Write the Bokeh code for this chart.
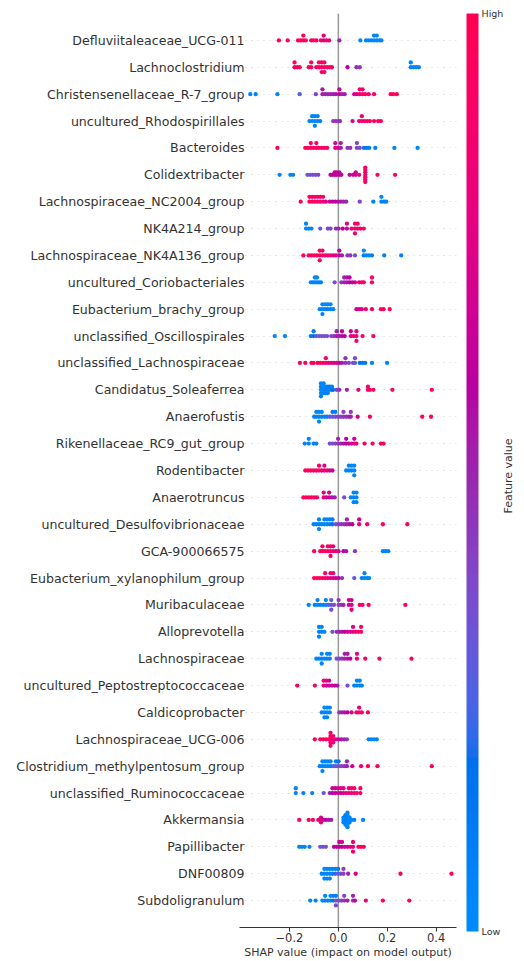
import numpy as np
from bokeh.plotting import figure
from bokeh.models import (ColumnDataSource, Range1d, FixedTicker, LinearColorMapper,
                          ColorBar, Span, LinearAxis)
from bokeh.transform import transform
from bokeh.embed import file_html
from bokeh.resources import INLINE

# ---------------- data (SHAP value, normalised feature value) ----------------
features = [
    "Defluviitaleaceae_UCG-011", "Lachnoclostridium", "Christensenellaceae_R-7_group",
    "uncultured_Rhodospirillales", "Bacteroides", "Colidextribacter",
    "Lachnospiraceae_NC2004_group", "NK4A214_group", "Lachnospiraceae_NK4A136_group",
    "uncultured_Coriobacteriales", "Eubacterium_brachy_group", "unclassified_Oscillospirales",
    "unclassified_Lachnospiraceae", "Candidatus_Soleaferrea", "Anaerofustis",
    "Rikenellaceae_RC9_gut_group", "Rodentibacter", "Anaerotruncus",
    "uncultured_Desulfovibrionaceae", "GCA-900066575", "Eubacterium_xylanophilum_group",
    "Muribaculaceae", "Alloprevotella", "Lachnospiraceae", "uncultured_Peptostreptococcaceae",
    "Caldicoprobacter", "Lachnospiraceae_UCG-006", "Clostridium_methylpentosum_group",
    "unclassified_Ruminococcaceae", "Akkermansia", "Papillibacter", "DNF00809", "Subdoligranulum",
]

defluviitaleaceae = [(-0.243,.95),(-0.207,.95),(-0.165,.95),(-0.154,.95),(-0.143,.95),(-0.143,.92),(-0.133,.95),(-0.111,.95),(-0.101,.92),(-0.090,.95),(-0.071,.9),(-0.060,.75),(-0.060,.75),(-0.049,.9),(-0.0375,.85),(0.004,.5),(0.090,.05),(0.113,.05),(0.124,.03),(0.135,.05),(0.146,.03),(0.146,.05),(0.157,.03),(0.157,.05),(0.168,.03),(0.176,.05)]
lachnoclostridium = [(-0.179,.95),(-0.179,.95),(-0.168,.95),(-0.158,.95),(-0.121,.95),(-0.111,.95),(-0.111,.92),(-0.090,.92),(-0.079,.92),(-0.079,.9),(-0.068,.92),(-0.068,.9),(-0.068,.9),(-0.057,.9),(-0.057,.92),(-0.057,.88),(-0.046,.9),(-0.035,.88),(-0.026,.88),(0.0375,.6),(0.074,.45),(0.0875,.45),(0.296,.03),(0.296,.05),(0.307,.03),(0.318,.05),(0.329,.03)]
christensenellaceae = [(-0.360,.03),(-0.338,.05),(-0.249,.05),(-0.158,.25),(-0.092,.4),(-0.065,.5),(-0.065,.55),(-0.054,.5),(-0.043,.5),(-0.032,.5),(-0.021,.52),(-0.010,.55),(0.004,.65),(0.004,.65),(0.015,.5),(0.026,.5),(0.065,.7),(0.076,.7),(0.0875,.85),(0.0875,.85),(0.099,.9),(0.099,.9),(0.110,.9),(0.124,.9),(0.146,.92),(0.214,.95),(0.225,.95),(0.239,.95)]
rhodospirillales = [(-0.118,.05),(-0.107,.03),(-0.107,.05),(-0.096,.03),(-0.096,.05),(-0.096,.05),(-0.085,.03),(-0.085,.05),(-0.074,.05),(-0.021,.42),(-0.010,.45),(0.001,.45),(0.007,.45),(0.058,.7),(0.085,.85),(0.096,.88),(0.096,.88),(0.107,.9),(0.118,.9),(0.129,.9),(0.146,.92),(0.1625,.95),(0.174,.95)]
bacteroides = [(-0.249,.95),(-0.135,.95),(-0.124,.95),(-0.1125,.92),(-0.1125,.92),(-0.101,.92),(-0.090,.92),(-0.090,.9),(-0.079,.9),(-0.068,.9),(-0.057,.9),(-0.046,.88),(-0.0125,.7),(-0.0125,.68),(-0.001,.7),(0.010,.55),(0.010,.55),(0.0375,.45),(0.049,.45),(0.076,.4),(0.076,.4),(0.0875,.35),(0.104,.2),(0.115,.15),(0.126,.1),(0.151,.05),(0.229,.05),(0.324,.03)]
colidextribacter = [(-0.240,.03),(-0.196,.05),(-0.185,.05),(-0.126,.32),(-0.115,.32),(-0.104,.35),(-0.093,.35),(-0.082,.4),(-0.032,.6),(-0.024,.6),(-0.015,.6),(-0.015,.62),(-0.007,.6),(-0.007,.62),(0.004,.62),(0.004,.6),(0.0125,.6),(0.046,.65),(0.060,.65),(0.071,.7),(0.071,.7),(0.085,.8),(0.110,.92),(0.110,.92),(0.110,.9),(0.110,.92),(0.110,.9),(0.110,.92),(0.110,.92),(0.160,.95),(0.232,.95)]
nc2004 = [(-0.154,.95),(-0.118,.92),(-0.118,.92),(-0.107,.92),(-0.107,.92),(-0.096,.9),(-0.096,.92),(-0.085,.9),(-0.085,.9),(-0.074,.88),(-0.074,.9),(-0.0625,.8),(-0.0625,.85),(-0.051,.75),(-0.035,.65),(-0.024,.6),(-0.0125,.6),(-0.001,.58),(0.010,.55),(0.021,.5),(0.032,.5),(0.0875,.4),(0.143,.05),(0.176,.05),(0.176,.03),(0.1875,.05),(0.196,.03)]
nk4a214 = [(-0.132,.03),(-0.132,.05),(-0.121,.05),(-0.110,.05),(-0.074,.3),(-0.043,.4),(-0.032,.4),(-0.010,.45),(0.001,.5),(0.018,.6),(0.035,.7),(0.035,.7),(0.054,.8),(0.068,.85),(0.068,.88),(0.068,.88),(0.079,.85),(0.079,.88),(0.090,.9),(0.104,.9)]
nk4a136 = [(-0.143,.95),(-0.121,.92),(-0.110,.92),(-0.099,.92),(-0.0875,.92),(-0.076,.9),(-0.076,.92),(-0.076,.92),(-0.065,.88),(-0.065,.9),(-0.054,.85),(-0.043,.8),(-0.032,.8),(-0.021,.75),(-0.010,.75),(0.004,.65),(0.004,.65),(0.015,.5),(0.0375,.45),(0.049,.45),(0.068,.35),(0.104,.1),(0.104,.05),(0.115,.05),(0.126,.05),(0.1375,.05),(0.1875,.05),(0.257,.03)]
coriobacteriales = [(-0.1125,.05),(-0.104,.05),(-0.096,.05),(-0.096,.03),(-0.0875,.05),(-0.0875,.03),(-0.079,.05),(-0.071,.05),(-0.015,.35),(0.0125,.45),(0.024,.5),(0.024,.5),(0.035,.55),(0.035,.55),(0.046,.6),(0.046,.6),(0.057,.6),(0.068,.65),(0.085,.85),(0.096,.85),(0.104,.9),(0.1375,.9),(0.1375,.92)]
brachy = [(-0.076,.05),(-0.065,.05),(-0.065,.03),(-0.065,.05),(-0.054,.05),(-0.054,.03),(-0.043,.05),(-0.043,.03),(-0.032,.05),(-0.032,.03),(-0.021,.05),(0.074,.7),(0.085,.7),(0.096,.75),(0.1125,.8),(0.1375,.9),(0.174,.95),(0.185,.95),(0.210,.95)]
oscillospirales = [(-0.260,.03),(-0.218,.05),(-0.1125,.12),(-0.101,.18),(-0.101,.1),(-0.090,.3),(-0.079,.3),(-0.068,.35),(-0.057,.35),(-0.046,.35),(-0.029,.4),(-0.018,.45),(-0.007,.55),(-0.007,.5),(0.004,.55),(0.015,.6),(0.015,.6),(0.026,.6),(0.051,.75),(0.051,.7),(0.0625,.8),(0.074,.85),(0.074,.75),(0.074,.85),(0.099,.9),(0.143,.95)]
uncl_lachnospiraceae = [(-0.157,.95),(-0.135,.95),(-0.110,.95),(-0.101,.95),(-0.085,.92),(-0.074,.92),(-0.0625,.9),(-0.051,.85),(-0.051,.85),(-0.040,.8),(-0.029,.75),(-0.018,.75),(-0.007,.7),(0.004,.65),(0.015,.55),(0.029,.45),(0.029,.45),(0.043,.4),(0.060,.35),(0.068,.3),(0.068,.35),(0.0875,.15),(0.099,.12),(0.110,.1),(0.1375,.05),(0.199,.05)]
soleaferrea = [(-0.071,.03),(-0.071,.05),(-0.071,.05),(-0.071,.03),(-0.071,.08),(-0.060,.05),(-0.060,.03),(-0.060,.08),(-0.060,.05),(-0.051,.05),(-0.051,.03),(-0.051,.08),(-0.043,.05),(-0.043,.1),(-0.043,.05),(-0.035,.05),(-0.035,.1),(-0.026,.1),(-0.026,.05),(-0.021,.15),(-0.007,.4),(0.004,.45),(0.035,.5),(0.082,.75),(0.121,.9),(0.121,.9),(0.129,.9),(0.143,.95),(0.221,.95),(0.382,.95)]
anaerofustis = [(-0.099,.05),(-0.090,.05),(-0.090,.03),(-0.079,.05),(-0.079,.03),(-0.079,.05),(-0.068,.05),(-0.068,.03),(-0.057,.05),(-0.046,.08),(-0.035,.3),(-0.024,.3),(-0.024,.1),(-0.0125,.35),(-0.0125,.12),(-0.001,.4),(0.010,.4),(0.021,.45),(0.021,.4),(0.032,.45),(0.043,.5),(0.051,.5),(0.051,.45),(0.079,.7),(0.129,.9),(0.343,.95),(0.379,.95)]
rikenellaceae = [(-0.1375,.05),(-0.121,.05),(-0.121,.03),(-0.101,.05),(-0.090,.05),(-0.035,.35),(-0.024,.35),(-0.0125,.4),(-0.001,.45),(-0.001,.5),(0.010,.5),(0.021,.55),(0.032,.6),(0.032,.6),(0.043,.65),(0.054,.7),(0.065,.7),(0.065,.65),(0.074,.8),(0.107,.9),(0.140,.95),(0.174,.95),(0.185,.95)]
rodentibacter = [(-0.135,.95),(-0.124,.95),(-0.1125,.95),(-0.101,.95),(-0.090,.92),(-0.079,.92),(-0.079,.88),(-0.068,.9),(-0.057,.8),(-0.057,.75),(-0.046,.8),(-0.035,.7),(-0.024,.65),(0.032,.05),(0.043,.05),(0.043,.03),(0.054,.05),(0.054,.03),(0.065,.05),(0.065,.03),(0.065,.05)]
anaerotruncus = [(-0.143,.95),(-0.132,.95),(-0.121,.95),(-0.110,.95),(-0.099,.92),(-0.0875,.92),(-0.060,.8),(-0.060,.75),(-0.049,.7),(-0.0375,.65),(-0.0375,.7),(-0.026,.55),(-0.015,.5),(0.024,.35),(0.051,.05),(0.0625,.05),(0.0625,.03),(0.0625,.05),(0.074,.05),(0.074,.03),(0.074,.05)]
desulfovibrionaceae = [(-0.101,.05),(-0.090,.05),(-0.079,.05),(-0.079,.03),(-0.079,.05),(-0.068,.05),(-0.057,.05),(-0.057,.03),(-0.046,.05),(-0.046,.03),(-0.035,.08),(-0.035,.05),(-0.024,.15),(-0.024,.1),(-0.010,.35),(0.001,.4),(0.0125,.45),(0.024,.45),(0.035,.5),(0.035,.5),(0.046,.55),(0.057,.6),(0.085,.8),(0.085,.7),(0.118,.9),(0.182,.95),(0.282,.95)]
gca_900066575 = [(-0.099,.95),(-0.074,.95),(-0.065,.92),(-0.065,.92),(-0.054,.92),(-0.043,.92),(-0.043,.9),(-0.032,.9),(-0.032,.9),(-0.032,.9),(-0.021,.85),(-0.021,.85),(-0.010,.75),(0.001,.7),(0.021,.6),(0.032,.55),(0.068,.45),(0.182,.05),(0.193,.05),(0.204,.03)]
xylanophilum = [(-0.099,.95),(-0.0875,.95),(-0.076,.95),(-0.065,.92),(-0.054,.92),(-0.054,.92),(-0.043,.8),(-0.032,.75),(-0.032,.85),(-0.021,.7),(-0.021,.8),(-0.010,.65),(0.001,.6),(0.015,.45),(0.065,.3),(0.096,.05),(0.107,.05),(0.107,.03),(0.118,.05),(0.126,.03)]
muribaculaceae = [(-0.121,.03),(-0.096,.05),(-0.085,.05),(-0.085,.03),(-0.074,.05),(-0.0625,.05),(-0.051,.05),(-0.051,.03),(-0.040,.25),(-0.029,.3),(-0.029,.3),(-0.029,.35),(-0.018,.35),(0.001,.4),(0.001,.45),(0.0125,.45),(0.021,.5),(0.043,.65),(0.043,.7),(0.054,.7),(0.054,.7),(0.054,.75),(0.0875,.9),(0.099,.9),(0.124,.95),(0.274,.95)]
alloprevotella = [(-0.079,.05),(-0.079,.03),(-0.079,.05),(-0.068,.05),(-0.068,.03),(-0.057,.05),(-0.024,.35),(-0.007,.45),(0.004,.5),(0.015,.55),(0.026,.6),(0.0375,.65),(0.049,.7),(0.060,.75),(0.060,.8),(0.071,.8),(0.082,.85),(0.093,.9),(0.093,.92)]
lachnospiraceae = [(-0.090,.05),(-0.079,.05),(-0.068,.05),(-0.068,.03),(-0.068,.05),(-0.057,.05),(-0.046,.05),(-0.046,.03),(-0.035,.08),(-0.035,.05),(-0.007,.35),(0.004,.4),(0.015,.45),(0.026,.5),(0.026,.5),(0.0375,.55),(0.0375,.55),(0.049,.6),(0.076,.8),(0.076,.75),(0.110,.9),(0.168,.95),(0.299,.95)]
peptostreptococcaceae = [(-0.168,.95),(-0.096,.92),(-0.060,.75),(-0.060,.85),(-0.049,.7),(-0.049,.75),(-0.0375,.7),(-0.0375,.7),(-0.026,.65),(-0.015,.6),(-0.004,.55),(0.0375,.35),(0.065,.05),(0.076,.05),(0.076,.03),(0.0875,.05),(0.0875,.03),(0.096,.05)]
caldicoprobacter = [(-0.068,.05),(-0.057,.05),(-0.057,.03),(-0.057,.05),(-0.046,.05),(-0.046,.03),(-0.046,.05),(-0.035,.05),(-0.035,.03),(0.004,.45),(0.015,.5),(0.026,.55),(0.0375,.6),(0.054,.7),(0.074,.8),(0.085,.85),(0.085,.8),(0.096,.9),(0.121,.95)]
ucg006 = [(-0.096,.95),(-0.074,.95),(-0.0625,.92),(-0.051,.92),(-0.040,.9),(-0.032,.9),(-0.032,.92),(-0.032,.9),(-0.032,.92),(-0.032,.9),(-0.021,.85),(-0.021,.88),(-0.021,.85),(-0.010,.7),(0.001,.65),(0.0125,.55),(0.024,.5),(0.035,.45),(0.124,.05),(0.135,.05),(0.146,.03),(0.157,.05)]
methylpentosum = [(-0.076,.05),(-0.065,.05),(-0.065,.03),(-0.065,.05),(-0.054,.05),(-0.054,.03),(-0.043,.05),(-0.043,.03),(-0.032,.08),(-0.032,.05),(-0.021,.25),(-0.010,.3),(-0.010,.1),(0.001,.35),(0.001,.15),(0.0125,.4),(0.024,.45),(0.035,.5),(0.035,.5),(0.057,.7),(0.093,.9),(0.121,.95),(0.160,.95),(0.382,.95)]
ruminococcaceae = [(-0.174,.03),(-0.174,.05),(-0.143,.05),(-0.107,.05),(-0.060,.3),(-0.035,.5),(-0.024,.6),(-0.024,.65),(-0.0125,.6),(-0.0125,.65),(-0.001,.65),(-0.001,.7),(0.010,.65),(0.010,.7),(0.021,.7),(0.021,.8),(0.032,.75),(0.043,.8),(0.043,.8),(0.054,.85),(0.054,.85),(0.065,.85),(0.065,.88),(0.076,.9),(0.090,.9),(0.090,.92)]
akkermansia = [(-0.160,.95),(-0.121,.95),(-0.104,.92),(-0.082,.8),(-0.071,.75),(-0.071,.75),(-0.071,.78),(-0.0625,.7),(-0.051,.6),(-0.040,.55),(-0.029,.5),(0.021,.05),(0.021,.03),(0.021,.05),(0.029,.05),(0.029,.03),(0.029,.05),(0.029,.08),(0.029,.05),(0.0375,.05),(0.0375,.03),(0.0375,.05),(0.0375,.08),(0.0375,.05),(0.0375,.03),(0.0375,.05),(0.046,.05),(0.046,.03),(0.046,.05),(0.054,.05),(0.065,.05),(0.101,.03)]
papillibacter = [(-0.160,.03),(-0.149,.05),(-0.1375,.05),(-0.118,.05),(-0.074,.3),(-0.0625,.35),(-0.051,.35),(-0.018,.6),(-0.007,.6),(0.004,.6),(0.004,.65),(0.015,.6),(0.015,.7),(0.026,.65),(0.0375,.7),(0.049,.75),(0.060,.8),(0.060,.8),(0.060,.8),(0.082,.9),(0.093,.95),(0.104,.95)]
dnf00809 = [(-0.068,.05),(-0.057,.05),(-0.057,.03),(-0.057,.05),(-0.046,.05),(-0.046,.03),(-0.046,.05),(-0.035,.05),(-0.035,.03),(-0.035,.05),(-0.024,.08),(-0.024,.05),(-0.0125,.2),(-0.0125,.05),(-0.001,.3),(-0.001,.1),(0.010,.35),(0.021,.4),(0.021,.4),(0.040,.5),(0.071,.7),(0.254,.95),(0.4625,.95)]
subdoligranulum = [(-0.115,.05),(-0.093,.05),(-0.065,.05),(-0.054,.05),(-0.054,.03),(-0.043,.05),(-0.032,.05),(-0.032,.03),(-0.021,.15),(-0.021,.05),(-0.010,.3),(-0.010,.1),(-0.010,.35),(0.001,.35),(0.0125,.4),(0.024,.45),(0.024,.4),(0.0375,.5),(0.060,.45),(0.060,.5),(0.068,.65),(0.1125,.85),(0.182,.95),(0.290,.95)]

rows = [defluviitaleaceae, lachnoclostridium, christensenellaceae, rhodospirillales, bacteroides,
        colidextribacter, nc2004, nk4a214, nk4a136, coriobacteriales, brachy, oscillospirales,
        uncl_lachnospiraceae, soleaferrea, anaerofustis, rikenellaceae, rodentibacter, anaerotruncus,
        desulfovibrionaceae, gca_900066575, xylanophilum, muribaculaceae, alloprevotella,
        lachnospiraceae, peptostreptococcaceae, caldicoprobacter, ucg006, methylpentosum,
        ruminococcaceae, akkermansia, papillibacter, dnf00809, subdoligranulum]

x_ticks = [-0.2, 0.0, 0.2, 0.4]
x_tick_labels = ["\u22120.2", "0.0", "0.2", "0.4"]

# ---------------- shap red_blue colormap (LCH interpolation) ----------------
def lch2rgb(l, c, h):
    a = c * np.cos(h)
    b = c * np.sin(h)
    fy = (l + 16.0) / 116.0
    fx = fy + a / 500.0
    fz = fy - b / 200.0
    def finv(t):
        return np.where(t > 6 / 29, t ** 3, 3 * (6 / 29) ** 2 * (t - 4 / 29))
    xyz = np.array([0.95047 * finv(fx), finv(fy), 1.08883 * finv(fz)])
    m = np.array([[3.2406, -1.5372, -0.4986], [-0.9689, 1.8758, 0.0415], [0.0557, -0.2040, 1.0570]])
    rgb = m @ xyz
    rgb = np.where(rgb > 0.0031308, 1.055 * np.abs(rgb) ** (1 / 2.4) - 0.055, 12.92 * rgb)
    return np.clip(rgb, 0, 1)

blue_lch = [54.0, 70.0, 4.6588]
red_lch = [54.0, 90.0, 0.35470565 + 2 * np.pi]
nsteps = 100
l_vals = list(np.linspace(blue_lch[0], 40.0, nsteps // 2)) + list(np.linspace(40.0, red_lch[0], nsteps // 2))
c_vals = np.linspace(blue_lch[1], red_lch[1], nsteps)
h_vals = np.linspace(blue_lch[2], red_lch[2], nsteps)
palette = []
for l, c, h in zip(l_vals, c_vals, h_vals):
    r, g, b = lch2rgb(l, c, h)
    palette.append("#%02x%02x%02x" % (int(round(r * 255)), int(round(g * 255)), int(round(b * 255))))

# ---------------- beeswarm layout (same binning as shap) ----------------
def swarm(vals, row_height=0.4, nbins=100):
    v = np.asarray(vals, dtype=float)
    quant = np.round(nbins * (v - v.min()) / (v.max() - v.min() + 1e-8))
    inds = np.argsort(quant, kind="stable")
    ys = np.zeros(len(v))
    layer, last = 0, None
    for ind in inds:
        if quant[ind] != last:
            layer = 0
        ys[ind] = np.ceil(layer / 2) * ((layer % 2) * 2 - 1)
        layer += 1
        last = quant[ind]
    ys *= 0.9 * (row_height / np.max(ys + 1))
    return ys

nrows = len(features)
xs, ys, cs = [], [], []
for i, row in enumerate(rows):
    vals = [r[0] for r in row]
    cols = [r[1] for r in row]
    pos = nrows - 1 - i
    off = swarm(vals)
    xs += vals
    ys += list(pos + off)
    cs += cols
src = ColumnDataSource(dict(x=xs, y=ys, c=cs))

mapper = LinearColorMapper(palette=palette, low=0, high=1)

FONT = "DejaVu Sans"
TXT = "#333333"

p = figure(width=524, height=961, x_range=Range1d(-0.404, 0.483), y_range=Range1d(-1, nrows),
           output_backend="svg", toolbar_location=None,
           min_border_left=239, min_border_right=0, min_border_top=13, min_border_bottom=33)
p.outline_line_color = None
p.background_fill_color = "white"
p.xgrid.visible = False
p.ygrid.ticker = FixedTicker(ticks=list(range(nrows)))
p.ygrid.grid_line_color = "#cccccc"
p.ygrid.grid_line_width = 1
p.ygrid.grid_line_dash = "1 5"

p.add_layout(Span(location=0, dimension="height", line_color="#999999", line_width=1.5, level="underlay"))

p.scatter("x", "y", source=src, size=4.3, line_color=None,
          fill_color=transform("c", mapper))

# y axis (feature names)
p.yaxis.ticker = FixedTicker(ticks=list(range(nrows)))
p.yaxis.major_label_overrides = {nrows - 1 - i: f for i, f in enumerate(features)}
p.yaxis.axis_line_color = None
p.yaxis.major_tick_line_color = None
p.yaxis.minor_tick_line_color = None
p.yaxis.major_tick_out = 0
p.yaxis.major_tick_in = 0
p.yaxis.major_label_standoff = -5
p.yaxis.major_label_text_font = FONT
p.yaxis.major_label_text_font_size = "12.6px"
p.yaxis.major_label_text_color = TXT

# x axis
p.xaxis.ticker = FixedTicker(ticks=x_ticks)
p.xaxis.major_label_overrides = dict(zip(x_ticks, x_tick_labels))
p.xaxis.axis_label = "SHAP value (impact on model output)"
p.xaxis.axis_line_color = TXT
p.xaxis.major_tick_line_color = TXT
p.xaxis.minor_tick_line_color = None
p.xaxis.major_tick_out = 4
p.xaxis.major_tick_in = 0
p.xaxis.major_label_standoff = 1
p.xaxis.axis_label_standoff = 1
p.xaxis.major_label_text_font = FONT
p.xaxis.major_label_text_font_size = "11.5px"
p.xaxis.major_label_text_color = TXT
p.xaxis.axis_label_text_font = FONT
p.xaxis.axis_label_text_font_size = "11px"
p.xaxis.axis_label_text_font_style = "normal"
p.xaxis.axis_label_text_color = TXT

# spacer between the plot area and the colour bar
spacer = LinearAxis(ticker=FixedTicker(ticks=[]), axis_line_color=None,
                    major_tick_line_color=None, minor_tick_line_color=None,
                    major_tick_out=0, major_tick_in=0, major_label_standoff=0,
                    axis_label="\u00a0", axis_label_standoff=0,
                    axis_label_text_font_size="7px")
p.add_layout(spacer, "right")

# colour bar
cb = ColorBar(color_mapper=mapper, ticker=FixedTicker(ticks=[0, 1]),
              major_label_overrides={0: "Low", 1: "High"},
              width=12, height=918, padding=0, margin=0, location="top_left",
              label_standoff=3, background_fill_color=None,
              major_tick_line_color=None, bar_line_color=None, border_line_color=None,
              major_label_text_font=FONT, major_label_text_font_size="9.5px",
              major_label_text_color=TXT)
p.add_layout(cb, "right")

# colour-bar title, drawn as a rotated axis label (reads bottom to top)
fv_pos = 14.4
fv = LinearAxis(ticker=FixedTicker(ticks=[fv_pos]), major_label_overrides={fv_pos: "Feature value"},
                major_label_orientation=np.pi / 2, major_label_standoff=2,
                major_tick_out=0, major_tick_in=0,
                axis_line_color=None, major_tick_line_color=None, minor_tick_line_color=None,
                major_label_text_font=FONT, major_label_text_font_size="11px",
                major_label_text_color=TXT)
p.add_layout(fv, "right")

open("out.html", "w").write(file_html(p, INLINE))
